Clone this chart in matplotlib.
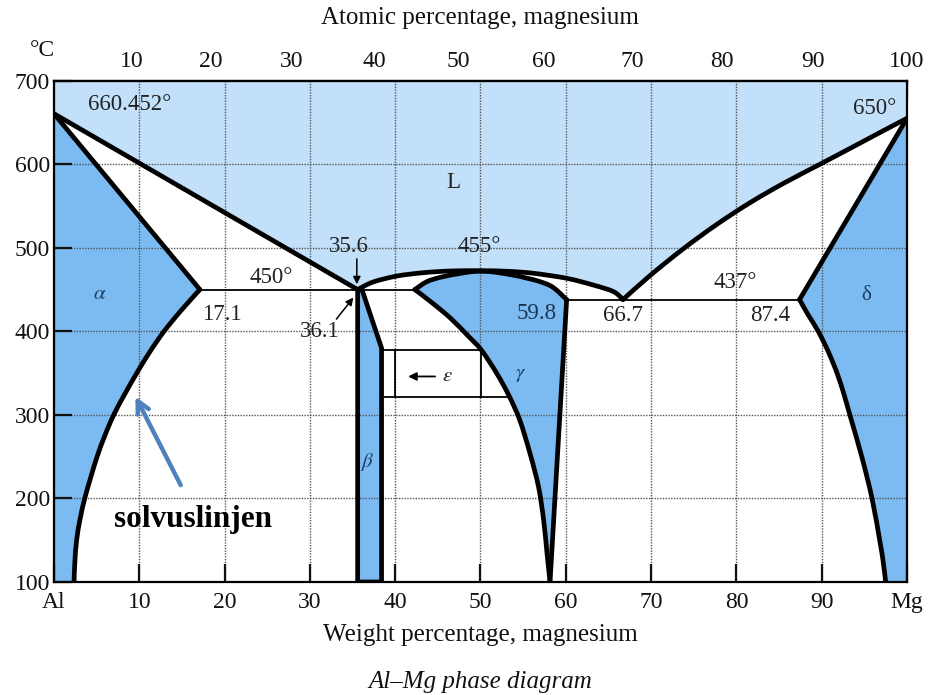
import numpy as np
import matplotlib
matplotlib.use("Agg")
import matplotlib.pyplot as plt
from matplotlib.path import Path
from matplotlib.patches import PathPatch

plt.rcParams['font.family'] = ['Liberation Serif', 'DejaVu Serif']
plt.rcParams['mathtext.fontset'] = 'stix'

# ---------------- data (wt% Mg, temperature °C) ----------------
M_AL, M_MG = 26.982, 24.305

T_MELT_AL = 660.452
T_MELT_MG = 655.0
T_EUT_LEFT = 450.0
T_EUT_RIGHT = 438.0

liq_al_x = [0.0, 35.6]
liq_al_t = [660.452, 450.0]

sol_al_x = [0.0, 17.1]
sol_al_t = [660.452, 450.0]

solvus_al_x = [17.1, 14.9, 12.9, 11.2, 9.7, 8.3, 7.0, 5.95, 5.05, 4.3, 3.6, 3.05, 2.65, 2.45, 2.35]
solvus_al_t = [450, 425, 400, 375, 350, 325, 300, 275, 250, 225, 200, 175, 150, 125, 100]

liq_mid_x = [35.6, 37.4, 40.2, 43.3, 46.4, 49.9, 53.1, 56.2, 60.1, 63.2, 65.6, 66.7]
liq_mid_t = [450, 459.0, 466.2, 470.2, 472.2, 472.6, 471.9, 469.5, 463.5, 455.5, 447.5, 438]

gamma_top_x = [42.3, 43.7, 45.3, 47.2, 49.2, 51.2, 53.8, 55.5, 57.0, 58.5, 60.1]
gamma_top_t = [450, 459.4, 464.7, 468.6, 471.6, 471.4, 467.4, 463.5, 459.4, 452.7, 438]

gamma_right_x = [60.1, 58.15]
gamma_right_t = [438, 100]

gamma_solvus_x = [42.3, 44.4, 46.5, 48.6, 50.1, 51.9, 53.3, 54.6, 55.8, 56.8, 57.4, 57.8, 58.15]
gamma_solvus_t = [450, 433.6, 415.6, 394.0, 377.7, 349.8, 323.8, 293.9, 254, 214.1, 174.2, 134.3, 100]

beta_x = [35.6, 35.6, 36.1, 38.4, 38.4, 35.6]
beta_t = [100, 450, 450, 380, 100, 100]

eps_top_x = [38.4, 50.1]
eps_top_t = [378, 378]
eps_bot_x = [38.4, 53.3]
eps_bot_t = [322, 322]
eps_vert_x = [40.0, 50.1]
eps_vert_t = [322, 378]

liq_mg_x = [66.7, 69.9, 73.8, 77.7, 81.6, 85.5, 89.8, 93.7, 97.2, 100.0]
liq_mg_t = [438, 467, 499, 528, 554, 577, 600, 621, 640, 655]

sol_mg_x = [87.4, 100.0]
sol_mg_t = [438, 655]

solvus_mg_x = [87.4, 88.4, 89.6, 90.8, 91.8, 92.6, 93.3, 94.7, 95.9, 96.8, 97.2, 97.5]
solvus_mg_t = [438, 420, 400, 375, 350, 325, 300, 250, 200, 150, 125, 100]

x_ticks = [0, 10, 20, 30, 40, 50, 60, 70, 80, 90, 100]
x_labels = ['Al', '10', '20', '30', '40', '50', '60', '70', '80', '90', 'Mg']
y_ticks = [100, 200, 300, 400, 500, 600, 700]
at_ticks = [10, 20, 30, 40, 50, 60, 70, 80, 90, 100]

# ---------------- style ----------------
C_LIQ = '#C2E0FA'
C_SOL = '#7BBBF1'
C_TXT = '#222222'
C_GRK = '#1B3F66'
LW = 3.4
LW_THIN = 1.3


def smooth_piece(xs, ys):
    """Bezier (Catmull-Rom) segments passing through the given points."""
    P = np.column_stack([xs, ys]).astype(float)
    n = len(P)
    verts, codes = [], []
    for i in range(n - 1):
        p0 = P[i - 1] if i > 0 else P[i]
        p1, p2 = P[i], P[i + 1]
        p3 = P[i + 2] if i + 2 < n else P[i + 1]
        verts += [p1 + (p2 - p0) / 6.0, p2 - (p3 - p1) / 6.0, p2]
        codes += [Path.CURVE4] * 3
    return verts, codes


def build_path(pieces, close=False):
    verts = [np.array([pieces[0][0][0], pieces[0][1][0]], dtype=float)]
    codes = [Path.MOVETO]
    for xs, ys in pieces:
        v, c = smooth_piece(xs, ys)
        verts += v
        codes += c
    if close:
        verts.append(verts[0])
        codes.append(Path.CLOSEPOLY)
    return Path(np.array(verts), codes)


fig = plt.figure(figsize=(9.33, 6.95), dpi=100)
ax = fig.add_axes([54/933, 1-582/695, 853/933, (582-80.7)/695])
ax.set_xlim(0, 100)
ax.set_ylim(100, 700)

# ---------- fills ----------
regions = [
    # liquid
    [([0, 0], [700, T_MELT_AL]), (liq_al_x, liq_al_t), (liq_mid_x, liq_mid_t),
     (liq_mg_x, liq_mg_t), ([100, 100], [T_MELT_MG, 700]), ([100, 0], [700, 700])],
    # alpha
    [([0, 0], [100, T_MELT_AL]), (sol_al_x, sol_al_t), (solvus_al_x, solvus_al_t),
     ([solvus_al_x[-1], 0], [100, 100])],
    # beta
    [(beta_x[i:i + 2], beta_t[i:i + 2]) for i in range(len(beta_x) - 1)],
    # gamma
    [(gamma_top_x, gamma_top_t), (gamma_right_x, gamma_right_t),
     (gamma_solvus_x[::-1], gamma_solvus_t[::-1])],
    # delta
    [([100, 100], [100, T_MELT_MG]), (sol_mg_x[::-1], sol_mg_t[::-1]),
     (solvus_mg_x, solvus_mg_t), ([solvus_mg_x[-1], 100], [100, 100])],
]
colors = [C_LIQ, C_SOL, C_SOL, C_SOL, C_SOL]
for pieces, col in zip(regions, colors):
    ax.add_patch(PathPatch(build_path(pieces, close=True), facecolor=col,
                           edgecolor='none', lw=0, zorder=1))

# ---------- grid ----------
ax.set_axisbelow(False)
ax.grid(True, color='#555555', linestyle=(0, (1, 1)), linewidth=1.0)

# ---------- thick boundaries ----------
curves = [
    (liq_al_x, liq_al_t), (sol_al_x, sol_al_t), (solvus_al_x, solvus_al_t),
    (liq_mid_x, liq_mid_t), (gamma_top_x, gamma_top_t), (gamma_right_x, gamma_right_t),
    (gamma_solvus_x, gamma_solvus_t), (liq_mg_x, liq_mg_t), (sol_mg_x, sol_mg_t),
    (solvus_mg_x, solvus_mg_t),
]
for xs, ys in curves:
    ax.add_patch(PathPatch(build_path([(xs, ys)]), facecolor='none', edgecolor='black',
                           lw=LW, zorder=4, capstyle='round', joinstyle='round'))
ax.plot(beta_x, beta_t, color='black', lw=LW, zorder=4,
        solid_capstyle='round', solid_joinstyle='miter')

# ---------- thin lines ----------
kt = dict(color='black', lw=LW_THIN, zorder=3)
ax.plot([17.1, 36.1], [T_EUT_LEFT, T_EUT_LEFT], **kt)
ax.plot([36.1, 42.3], [T_EUT_LEFT, T_EUT_LEFT], **kt)
ax.plot([60.1, 87.4], [T_EUT_RIGHT, T_EUT_RIGHT], **kt)
ax.plot(eps_top_x, eps_top_t, **kt)
ax.plot(eps_bot_x, eps_bot_t, **kt)
for xv in eps_vert_x:
    ax.plot([xv, xv], eps_vert_t, **kt)

# ---------- labels ----------
fs = 16.5
def lab(x, y, s, color=C_TXT, size=fs, **k):
    ax.text(x, y, s, ha='center', va='center', fontsize=size, color=color, zorder=6, **k)

lab(8.9, 671, '660.452°')
lab(46.8, 578, 'L')
lab(34.6, 502, '35.6')
lab(25.5, 465, '450°')
lab(5.4, 444, r'$\alpha$', color=C_GRK, size=15)
lab(19.7, 420, '17.1')
lab(31.2, 400, '36.1')
lab(49.9, 501, '455°')
lab(56.6, 421, '59.8', color='#1E3550')
lab(66.7, 419, '66.7')
lab(79.8, 458, '437°')
lab(84.0, 419, '87.4')
lab(95.2, 443, 'δ', color=C_GRK, size=15)
lab(96.2, 667, '650°')
lab(36.8, 244, r'$\beta$', color=C_GRK, size=15)
lab(54.7, 348, r'$\gamma$', color=C_GRK, size=15)
lab(46.1, 346, r'$\epsilon$', color=C_TXT, size=15)
ax.annotate('', xy=(41.2, 346), xytext=(45.0, 346),
            arrowprops=dict(arrowstyle='-|>', color='black', lw=1.3, mutation_scale=12), zorder=6)

ax.annotate('', xy=(35.5, 453), xytext=(35.5, 490),
            arrowprops=dict(arrowstyle='-|>', color='black', lw=1.1, mutation_scale=11), zorder=6)
ax.annotate('', xy=(35.3, 443), xytext=(32.9, 412),
            arrowprops=dict(arrowstyle='-|>', color='black', lw=1.1, mutation_scale=11), zorder=6)

# blue arrow and annotation
ax.annotate('', xy=(9.4, 325), xytext=(15.0, 213),
            arrowprops=dict(arrowstyle='->', color='#4F81BD', lw=3.2, mutation_scale=22), zorder=7)
ax.text(16.3, 175, 'solvuslinjen', ha='center', va='center', fontsize=22.5,
        fontweight='bold', color='black', zorder=7)

# ---------- axes ----------
ax.set_xticks(x_ticks)
ax.set_xticklabels(x_labels)
ax.set_yticks(y_ticks)
ax.tick_params(axis='both', direction='in', length=13, width=1.6, labelsize=17,
               colors='#111111')
ax.tick_params(axis='x', pad=7)
ax.tick_params(axis='y', pad=3)
for sp in ax.spines.values():
    sp.set_linewidth(1.6)
    sp.set_zorder(8)

def wt2at(w):
    w = np.asarray(w, dtype=float)
    return 100.0 * (w / M_MG) / (w / M_MG + (100.0 - w) / M_AL)

def at2wt(a):
    a = np.asarray(a, dtype=float)
    return 100.0 * a * M_MG / (a * M_MG + (100.0 - a) * M_AL)

sec = ax.secondary_xaxis('top', functions=(wt2at, at2wt))
sec.set_xticks(at_ticks)
sec.set_xticklabels([str(v) for v in at_ticks])
sec.tick_params(direction='in', length=13, width=1.6, labelsize=17, pad=6, colors='#111111')
sec.spines['top'].set_linewidth(1.6)

fig.text(480/933, 1-18/695, 'Atomic percentage, magnesium', ha='center', va='center',
         fontsize=18, color='#111111')
fig.text(480/933, 1-635/695, 'Weight percentage, magnesium', ha='center', va='center',
         fontsize=18, color='#111111')
fig.text(480/933, 1-682/695, 'Al–Mg phase diagram', ha='center', va='center',
         fontsize=18, style='italic', color='#111111')
fig.text(42/933, 1-50/695, '°C', ha='center', va='center', fontsize=17, color='#111111')

fig.savefig('out.png', dpi=100, facecolor='white')
